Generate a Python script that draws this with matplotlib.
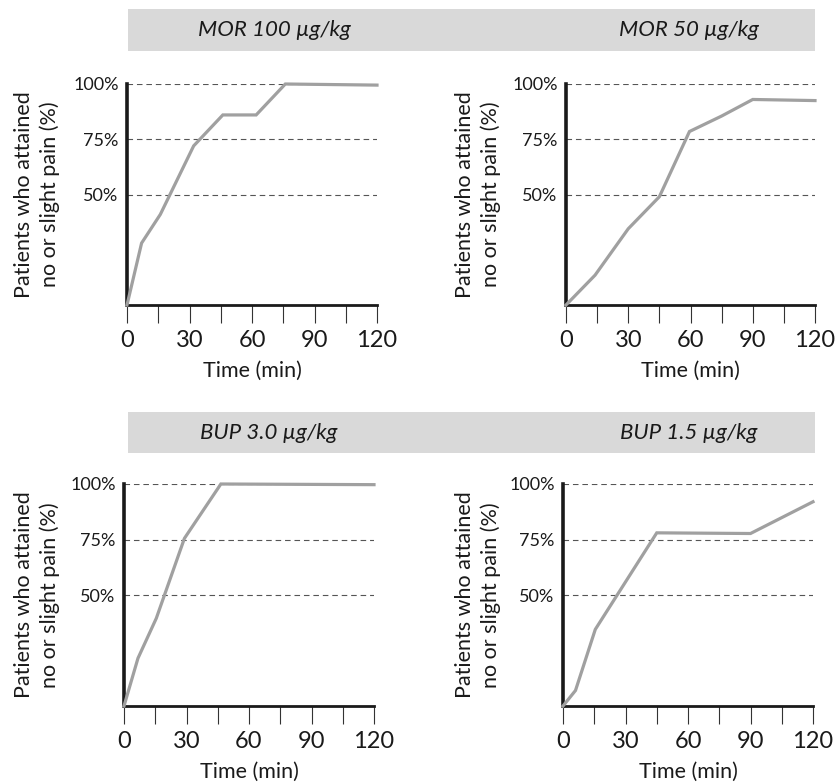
import numpy as np
import matplotlib.pyplot as plt
from matplotlib.patches import Rectangle
from matplotlib.ticker import MultipleLocator, FixedLocator

plt.rcParams['font.family'] = ['Lato', 'DejaVu Sans']

W, H = 835, 782

# data (time in min, % of patients)
mor100_t = [0, 7, 16, 32, 46, 62, 76, 120]
mor100_p = [0, 28, 41, 72, 86, 86, 100, 99.5]
mor50_t = [0, 14, 30, 45, 59.5, 75, 90, 120]
mor50_p = [0, 13.5, 34.5, 49, 78.5, 85.5, 93, 92.5]
bup30_t = [0, 6.7, 15.5, 29, 46.5, 120]
bup30_p = [0, 21.5, 39.5, 75.5, 100, 99.7]
bup15_t = [0, 6, 15.5, 45, 90, 120]
bup15_p = [0, 7, 34.5, 78, 77.7, 92]

titles = ['MOR 100 µg/kg', 'MOR 50 µg/kg', 'BUP 3.0 µg/kg', 'BUP 1.5 µg/kg']
grid_levels = [50, 75, 100]
grid_labels = ['50%', '75%', '100%']
x_major = [0, 30, 60, 90, 120]

series = [(mor100_t, mor100_p), (mor50_t, mor50_p), (bup30_t, bup30_p), (bup15_t, bup15_p)]

# axes boxes in pixels: left, top, right, bottom
boxes = [(127, 84, 377, 305), (566, 84, 815, 305),
         (124, 484, 374, 706), (563, 484, 813, 706)]
title_pos = [(274, 30), (689, 30), (269, 433), (689, 433)]
ylabel_x = [37, 478, 37, 478]

fig = plt.figure(figsize=(W / 100, H / 100), dpi=100)

# grey title bands
for top, bot in [(9, 51), (412, 453)]:
    fig.patches.append(Rectangle((128 / W, 1 - bot / H), (815 - 128) / W, (bot - top) / H,
                                 transform=fig.transFigure, facecolor='#d9d9d9', edgecolor='none'))

for i, (t, p) in enumerate(series):
    l, tp, r, b = boxes[i]
    ax = fig.add_axes([l / W, 1 - b / H, (r - l) / W, (b - tp) / H])
    for lev in grid_levels:
        ax.axhline(lev, color='#555555', lw=0.8, ls=(0, (5, 3.5)), zorder=1)
    ax.plot(t, p, color='#a0a0a0', lw=2.3, zorder=3, clip_on=False, solid_joinstyle='miter')
    ax.set_xlim(0, 120)
    ax.set_ylim(0, 100)
    ax.spines['top'].set_visible(False)
    ax.spines['right'].set_visible(False)
    ax.spines['left'].set_linewidth(2.6)
    ax.spines['bottom'].set_linewidth(2.0)
    ax.spines['left'].set_color('#1a1a1a')
    ax.spines['bottom'].set_color('#1a1a1a')
    ax.spines['left'].set_zorder(2)
    ax.xaxis.set_major_locator(FixedLocator(x_major))
    ax.xaxis.set_minor_locator(MultipleLocator(15))
    ax.tick_params(axis='x', which='both', direction='out', length=13, width=0.8, color='#333333')
    ax.tick_params(axis='x', which='major', labelsize=17, pad=5, labelcolor='#1a1a1a')
    ax.set_yticks(grid_levels)
    ax.set_yticklabels(grid_labels)
    ax.tick_params(axis='y', length=0, pad=6, labelsize=13, labelcolor='#1a1a1a')
    ax.set_xlabel('Time (min)', fontsize=15.5, labelpad=7, color='#1a1a1a')
    fig.text(ylabel_x[i] / W, 1 - (tp + b) / 2 / H, 'Patients who attained\nno or slight pain (%)',
             rotation=90, ha='center', va='center', fontsize=15.5, linespacing=1.3, color='#1a1a1a')
    fig.text(title_pos[i][0] / W, 1 - title_pos[i][1] / H, titles[i], style='italic',
             ha='center', va='center', fontsize=16, color='#1a1a1a')

fig.savefig('out.png', dpi=100)
